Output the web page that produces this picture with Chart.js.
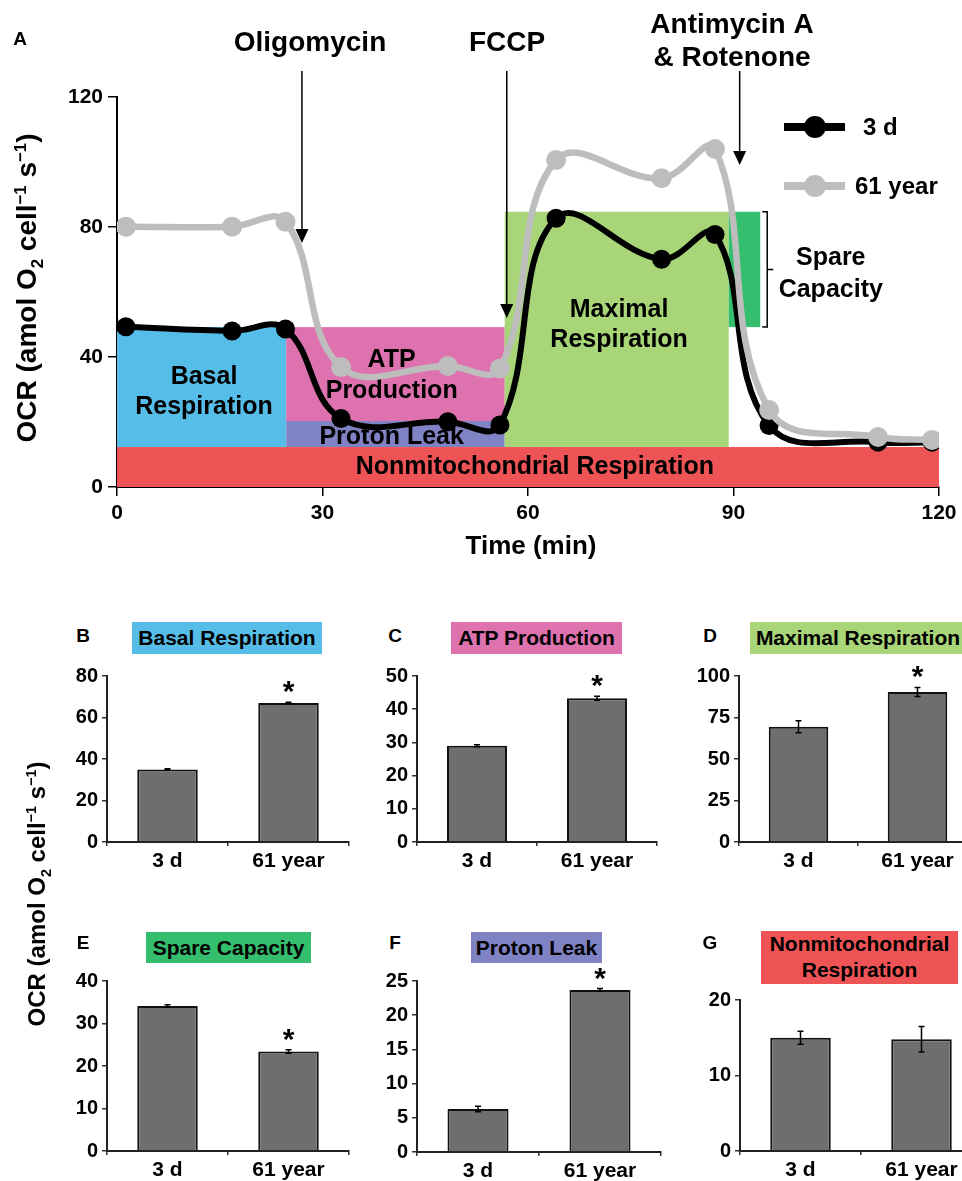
<!DOCTYPE html>
<html>
<head>
<meta charset="utf-8">
<script src="https://cdn.jsdelivr.net/npm/chart.js@4.4.1/dist/chart.umd.min.js"></script>
<style>
  body { margin: 0; width: 962px; height: 1181px; overflow: hidden; background: #fff; position: relative;
         font-family: "Liberation Sans", Arial, sans-serif; font-weight: bold; color: #000; }
  canvas { position: absolute; }
  .ytitle { position: absolute; white-space: nowrap; line-height: 1; transform: translate(-50%, -50%) rotate(-90deg); }
  .ytitle sub, .ytitle sup { font-size: 60%; line-height: 0; }
  .box { position: absolute; text-align: center; white-space: nowrap; font-size: 21px; }
  .letter { position: absolute; font-size: 19px; transform: translate(-50%, -50%); }
</style>
</head>
<body>
<canvas id="panelA"></canvas>
<canvas id="panelB"></canvas>
<canvas id="panelC"></canvas>
<canvas id="panelD"></canvas>
<canvas id="panelE"></canvas>
<canvas id="panelF"></canvas>
<canvas id="panelG"></canvas>

<div class="letter" style="left:20px;top:39px">A</div>
<div class="ytitle" style="left:27px;top:288px;font-size:28px">OCR (amol O<sub>2</sub> cell<sup>−1</sup> s<sup>−1</sup>)</div>
<div class="ytitle" style="left:37px;top:894px;font-size:24px">OCR (amol O<sub>2</sub> cell<sup>−1</sup> s<sup>−1</sup>)</div>

<div class="letter" style="left:83px;top:636px">B</div>
<div class="box" style="left:132px;top:622px;width:190px;height:32px;line-height:32px;background:#56bde8">Basal Respiration</div>
<div class="letter" style="left:395px;top:636px">C</div>
<div class="box" style="left:451px;top:622px;width:171px;height:32px;line-height:32px;background:#de72ae">ATP Production</div>
<div class="letter" style="left:710px;top:636px">D</div>
<div class="box" style="left:750px;top:622px;width:216px;height:32px;line-height:32px;background:#a8d577">Maximal Respiration</div>
<div class="letter" style="left:83px;top:943px">E</div>
<div class="box" style="left:146px;top:932px;width:165px;height:31px;line-height:31px;background:#35be6e">Spare Capacity</div>
<div class="letter" style="left:395px;top:943px">F</div>
<div class="box" style="left:471px;top:932px;width:131px;height:31px;line-height:31px;background:#7f83c3">Proton Leak</div>
<div class="letter" style="left:710px;top:943px">G</div>
<div class="box" style="left:761px;top:931px;width:197px;height:53px;line-height:26px;padding-top:0;background:#ee5455">Nonmitochondrial<br>Respiration</div>

<script>
// ---- panel A: OCR trace ----
const timeMin = [1.3, 16.8, 24.6, 32.7, 48.3, 55.9, 64.1, 79.5, 87.3, 95.2, 111.1, 119.0];
const ocr3d   = [49.3, 48.0, 48.6, 21.1, 20.1, 19.1, 82.7, 70.1, 77.7, 18.9, 13.8, 13.8];
const ocr61y  = [80.1, 80.1, 81.6, 36.9, 37.2, 36.5, 100.6, 95.0, 104.0, 23.7, 15.4, 14.5];

const regionNames = ['Nonmitochondrial Respiration', 'Basal Respiration', 'ATP Production',
                     'Proton Leak', 'Maximal Respiration', 'Spare Capacity'];
const regionT0 = [0, 0, 24.7, 24.7, 56.6, 89.3];
const regionT1 = [120, 24.7, 56.6, 56.6, 89.3, 93.9];
const regionLo = [0, 12.3, 20.3, 12.3, 12.3, 49.2];
const regionHi = [12.3, 49.2, 49.2, 20.3, 84.7, 84.7];
const regionColors = ['#ee5455', '#56bde8', '#de72ae', '#7f83c3', '#a8d577', '#35be6e'];

const injections = ['Oligomycin', 'FCCP', 'Antimycin A'];
const injectionTime = [27.0, 56.9, 90.9];

// ---- panels B-G: bar summaries ----
const groups = ['3 d', '61 year'];
const basalMean = [35.0, 67.0],   basalErr = [0.3, 0.4];
const atpMean = [29.0, 43.3],     atpErr = [0.3, 0.6];
const maximalMean = [69.4, 90.4], maximalErr = [3.6, 2.7];
const spareMean = [34.1, 23.4],   spareErr = [0.3, 0.4];
const leakMean = [6.3, 23.7],     leakErr = [0.4, 0.2];
const nonmitoMean = [15.0, 14.8], nonmitoErr = [0.85, 1.7];
const significant = { basal: [false, true], atp: [false, true], maximal: [false, true],
                      spare: [false, true], leak: [false, true], nonmito: [false, false] };

const FONT = '"Liberation Sans", Arial, sans-serif';
Chart.defaults.font.family = FONT;
Chart.defaults.color = '#000';

function font(size) { return 'bold ' + size + 'px ' + FONT; }

function place(id, left, top, w, h) {
    const c = document.getElementById(id);
    c.width = w; c.height = h;
    c.style.left = left + 'px'; c.style.top = top + 'px';
    c.style.width = w + 'px'; c.style.height = h + 'px';
    return c;
}

// region boxes and their labels, under the traces
const regionLabels = [
    { lines: ['Nonmitochondrial Respiration'], t: 61, v: [6.2] },
    { lines: ['Basal', 'Respiration'], t: 12.7, v: [33.8, 24.6] },
    { lines: ['ATP', 'Production'], t: 40.1, v: [39.1, 29.5] },
    { lines: ['Proton Leak'], t: 40.1, v: [15.4] },
    { lines: ['Maximal', 'Respiration'], t: 73.3, v: [54.5, 45.2] },
    { lines: ['Spare', 'Capacity'], t: 104.2, v: [70.5, 60.6] }
];

const seahorsePlugin = {
    id: 'seahorse',
    beforeDatasetsDraw(chart) {
        const { ctx, scales: { x, y } } = chart;
        ctx.save();
        regionNames.forEach((name, i) => {
            const x0 = x.getPixelForValue(regionT0[i]), x1 = x.getPixelForValue(regionT1[i]);
            const y0 = y.getPixelForValue(regionHi[i]), y1 = y.getPixelForValue(regionLo[i]);
            ctx.fillStyle = regionColors[i];
            ctx.fillRect(x0, y0, x1 - x0, y1 - y0);
        });
        ctx.fillStyle = '#000';
        ctx.font = font(25);
        ctx.textAlign = 'center';
        ctx.textBaseline = 'middle';
        regionLabels.forEach(r => {
            r.lines.forEach((s, k) => ctx.fillText(s, x.getPixelForValue(r.t), y.getPixelForValue(r.v[k])));
        });
        ctx.restore();
    },
    afterDraw(chart) {
        const { ctx, scales: { x, y } } = chart;
        ctx.save();
        ctx.fillStyle = '#000';
        ctx.strokeStyle = '#000';

        // injection arrows
        const tips = [75.1, 52.0, 99.1];
        injectionTime.forEach((t, i) => {
            const px = x.getPixelForValue(t);
            const tip = y.getPixelForValue(tips[i]);
            ctx.lineWidth = 1.5;
            ctx.beginPath(); ctx.moveTo(px, 71); ctx.lineTo(px, tip - 12); ctx.stroke();
            ctx.beginPath(); ctx.moveTo(px - 6.5, tip - 14); ctx.lineTo(px + 6.5, tip - 14); ctx.lineTo(px, tip);
            ctx.closePath(); ctx.fill();
        });
        ctx.font = font(28);
        ctx.textAlign = 'center';
        ctx.textBaseline = 'middle';
        ctx.fillText(injections[0], 310, 43);
        ctx.fillText(injections[1], 507, 43);
        ctx.fillText(injections[2], 732, 25);
        ctx.fillText('& Rotenone', 732, 58);

        // bracket for spare capacity
        const bx = x.getPixelForValue(regionT1[5]) + 7;
        const b0 = y.getPixelForValue(regionHi[5]), b1 = y.getPixelForValue(regionLo[5]);
        ctx.lineWidth = 1.5;
        ctx.beginPath();
        ctx.moveTo(bx - 5, b0); ctx.lineTo(bx, b0); ctx.lineTo(bx, b1); ctx.lineTo(bx - 5, b1);
        ctx.moveTo(bx, (b0 + b1) / 2); ctx.lineTo(bx + 6, (b0 + b1) / 2);
        ctx.stroke();

        // legend
        const legend = [['3 d', '#000', 127, 863], ['61 year', '#bdbdbd', 186, 855]];
        ctx.font = font(24);
        ctx.textAlign = 'left';
        legend.forEach(([name, col, ly, tx]) => {
            ctx.strokeStyle = col; ctx.fillStyle = col; ctx.lineWidth = 8;
            ctx.beginPath(); ctx.moveTo(784, ly); ctx.lineTo(845, ly); ctx.stroke();
            ctx.beginPath(); ctx.arc(815, ly, 11, 0, Math.PI * 2); ctx.fill();
            ctx.fillStyle = '#000';
            ctx.fillText(name, tx, ly + 1);
        });

        // x title
        ctx.font = font(26);
        ctx.textAlign = 'center';
        ctx.fillText('Time (min)', 531, 547);
        ctx.restore();
    }
};

const axisFont = { family: FONT, size: 21, weight: 'bold' };

new Chart(place('panelA', 0, 0, 962, 580), {
    type: 'line',
    data: {
        datasets: [{
            label: '3 d',
            data: timeMin.map((t, i) => ({ x: t, y: ocr3d[i] })),
            borderColor: '#000',
            backgroundColor: '#000',
            pointBackgroundColor: '#000',
            borderWidth: 6,
            pointRadius: 9.5,
            pointBorderWidth: 0,
            tension: 0.4,
            order: 1
        }, {
            label: '61 year',
            data: timeMin.map((t, i) => ({ x: t, y: ocr61y[i] })),
            borderColor: '#bdbdbd',
            backgroundColor: '#bdbdbd',
            pointBackgroundColor: '#bdbdbd',
            borderWidth: 6.5,
            pointRadius: 10,
            pointBorderWidth: 0,
            tension: 0.4,
            order: 0
        }]
    },
    options: {
        responsive: false,
        animation: false,
        devicePixelRatio: 1,
        layout: { padding: { left: 0, top: 97, right: 23, bottom: 0 } },
        plugins: { legend: { display: false }, tooltip: { enabled: false } },
        scales: {
            x: {
                type: 'linear', min: 0, max: 120,
                ticks: { stepSize: 30, font: axisFont, color: '#000', padding: 5 },
                grid: { drawOnChartArea: false, tickLength: 9, color: '#000', lineWidth: 1.5 },
                border: { color: '#000', width: 2 },
                afterFit: s => { s.height = 93; }
            },
            y: {
                min: 0, max: 120,
                ticks: { stepSize: 40, font: axisFont, color: '#000', padding: 5 },
                grid: { drawOnChartArea: false, tickLength: 9, color: '#000', lineWidth: 1.5 },
                border: { color: '#000', width: 2 },
                afterFit: s => { s.width = 117; }
            }
        }
    },
    plugins: [seahorsePlugin]
});

// error bars and significance stars on the summary panels
const errBarsPlugin = {
    id: 'errBars',
    afterDatasetsDraw(chart, args, opts) {
        const { ctx, scales: { y } } = chart;
        const means = chart.data.datasets[0].data;
        ctx.save();
        ctx.strokeStyle = '#000';
        ctx.fillStyle = '#000';
        ctx.lineWidth = 1.5;
        chart.getDatasetMeta(0).data.forEach((bar, i) => {
            const top = y.getPixelForValue(means[i] + opts.err[i]);
            const bot = y.getPixelForValue(means[i] - opts.err[i]);
            ctx.beginPath();
            ctx.moveTo(bar.x, top); ctx.lineTo(bar.x, bot);
            ctx.moveTo(bar.x - 3, top); ctx.lineTo(bar.x + 3, top);
            ctx.moveTo(bar.x - 3, bot); ctx.lineTo(bar.x + 3, bot);
            ctx.stroke();
            if (opts.stars[i]) {
                ctx.font = font(30);
                ctx.textAlign = 'center';
                ctx.textBaseline = 'alphabetic';
                ctx.fillText('*', bar.x, Math.min(top, bar.y) - 1);
            }
        });
        ctx.restore();
    }
};

function barPanel(id, canvasBox, area, means, errs, stars, yMax, yStep) {
    const [cl, ct, cw, ch] = canvasBox;
    const tickFont = { family: FONT, size: 20, weight: 'bold' };
    new Chart(place(id, cl, ct, cw, ch), {
        type: 'bar',
        data: {
            labels: groups,
            datasets: [{
                data: means,
                backgroundColor: '#6e6e6e',
                borderColor: '#111',
                borderWidth: 2,
                barPercentage: 0.5,
                categoryPercentage: 1.0
            }]
        },
        options: {
            responsive: false,
            animation: false,
            devicePixelRatio: 1,
            layout: { padding: { left: 0, top: area.top - ct, right: cl + cw - area.right, bottom: 0 } },
            plugins: { legend: { display: false }, tooltip: { enabled: false },
                       errBars: { err: errs, stars: stars } },
            scales: {
                x: {
                    ticks: { font: { family: FONT, size: 21, weight: 'bold' }, color: '#000', padding: 3 },
                    grid: { drawOnChartArea: false, tickLength: 4, color: '#333', lineWidth: 1.5, offset: true },
                    border: { color: '#222', width: 2 },
                    afterFit: s => { s.height = ct + ch - area.bottom; }
                },
                y: {
                    min: 0, max: yMax,
                    ticks: { stepSize: yStep, font: tickFont, color: '#000', padding: 4 },
                    grid: { drawOnChartArea: false, tickLength: 5, color: '#333', lineWidth: 1.5 },
                    border: { color: '#222', width: 2 },
                    afterFit: s => { s.width = area.left - cl; }
                }
            }
        },
        plugins: [errBarsPlugin]
    });
}

barPanel('panelB', [0, 660, 350, 220],   { left: 107, right: 349, top: 672, bottom: 842 },  basalMean, basalErr, significant.basal, 80, 20);
barPanel('panelC', [340, 660, 330, 220], { left: 417, right: 657, top: 671, bottom: 842 },  atpMean, atpErr, significant.atp, 50, 10);
barPanel('panelD', [660, 660, 330, 220], { left: 739, right: 977, top: 672, bottom: 842 },  maximalMean, maximalErr, significant.maximal, 100, 25);
barPanel('panelE', [0, 965, 350, 225],   { left: 107, right: 349, top: 980, bottom: 1151 }, spareMean, spareErr, significant.spare, 40, 10);
barPanel('panelF', [340, 965, 330, 225], { left: 417, right: 661, top: 979, bottom: 1152 }, leakMean, leakErr, significant.leak, 25, 5);
barPanel('panelG', [660, 965, 330, 225], { left: 740, right: 982, top: 1000, bottom: 1151 }, nonmitoMean, nonmitoErr, significant.nonmito, 20, 10);
</script>
</body>
</html>
